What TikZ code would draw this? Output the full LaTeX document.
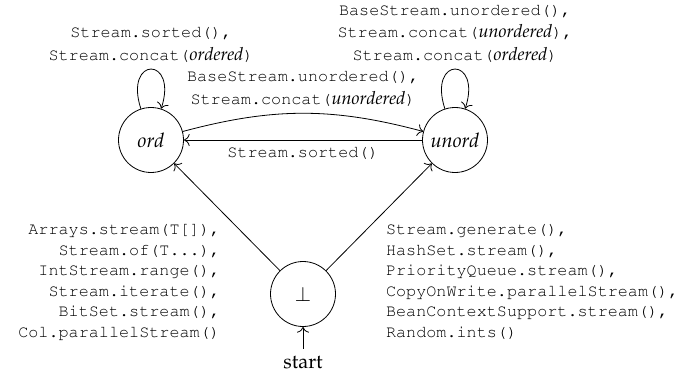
\documentclass[tikz,border=0pt]{standalone}
\usepackage[T1]{fontenc}
\usepackage{mathpazo}
\usepackage{courier}
\usetikzlibrary{positioning,arrows.meta}

\newcommand{\ital}[1]{{\rmfamily\itshape\fontsize{9}{11}\selectfont #1}}

\begin{document}
\begin{tikzpicture}[
    state/.style={circle, draw, minimum size=32.5pt, inner sep=0pt, font=\itshape},
    looplbl/.style={font=\ttfamily\fontsize{8.4}{11.2}\selectfont, align=center},
    sidelbl/.style={font=\ttfamily\fontsize{8.4}{10.25}\selectfont},
    selfloop/.style={loop, out=108, in=72, looseness=7},
    trans/.style={-{To[scale=1.15]}}
]
    \useasboundingbox (-151.5pt,-40.5pt) rectangle (190pt,147pt);

    \node [state] (bot) {$\bot$};
    \node [state, on grid, above left=77pt and 76pt of bot] (ord) {ord};
    \node [state, on grid, above right=77pt and 76pt of bot] (unord) {unord};
    \node [below=11pt of bot] (start) {start};

    \draw [trans] (start) -- (bot);
    \draw [trans] (ord) to [selfloop] node [looplbl, above] {Stream.sorted(),\\Stream.concat(\ital{ordered})} (ord);
    \draw [trans] (unord) to [selfloop] node [looplbl, above] {BaseStream.unordered(),\\Stream.concat(\ital{unordered}),\\Stream.concat(\ital{ordered})} (unord);
    \draw [trans] (ord) to [bend left=15] node [looplbl, above] {BaseStream.unordered(),\\Stream.concat(\ital{unordered})} (unord);
    \draw [trans] (unord) -- node [looplbl, below] {Stream.sorted()} (ord);

    \draw [trans] (bot) -- node [sidelbl, anchor=north east, align=right] {Arrays.stream(T[]),\\Stream.of(T...),\\IntStream.range(),\\Stream.iterate(),\\BitSet.stream(),\\Col.parallelStream()} (ord);
    \draw [trans] (bot) -- node [sidelbl, anchor=north west, align=left] {Stream.generate(),\\HashSet.stream(),\\PriorityQueue.stream(),\\CopyOnWrite.parallelStream(),\\BeanContextSupport.stream(),\\Random.ints()} (unord);
\end{tikzpicture}
\end{document}
